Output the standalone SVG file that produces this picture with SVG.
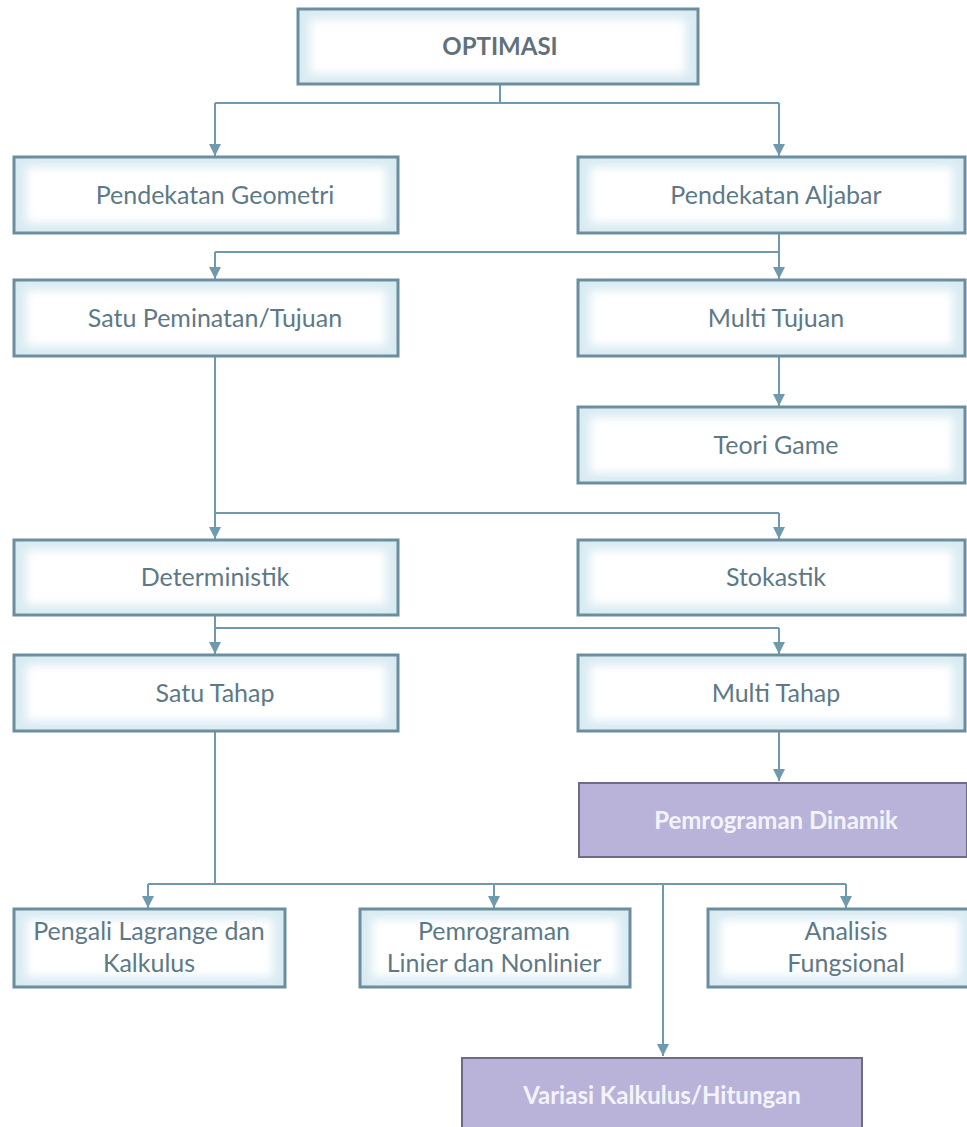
<svg xmlns="http://www.w3.org/2000/svg" width="967" height="1127" viewBox="0 0 967 1127">
<defs>
<style>
.box{fill:#d9ebf2;stroke:#6b8e9e;stroke-width:3}
.inner{fill:#ffffff;filter:url(#soft)}
.pbox{fill:#b9b3da;stroke:#6d6b86;stroke-width:2}
.t{font-family:Lato,"Open Sans",sans-serif;font-size:25px;fill:#5d7987;text-anchor:middle}
.tb{font-family:Lato,"Open Sans",sans-serif;font-size:24px;font-weight:bold;fill:#5f717b;text-anchor:middle}
.tw{font-family:Lato,"Open Sans",sans-serif;font-size:24px;font-weight:bold;fill:#f4f3fa;text-anchor:middle}
.c{fill:none;stroke:#6f9aae;stroke-width:2}
</style>
<filter id="soft" x="-10%" y="-30%" width="120%" height="160%"><feGaussianBlur stdDeviation="5"/></filter>
<marker id="ah" viewBox="0 0 10 10" refX="10" refY="5" markerWidth="6" markerHeight="6" orient="auto" markerUnits="strokeWidth"><path d="M0,0 L10,5 L0,10 z" fill="#6f9aae"/></marker>
</defs>

<g id="connectors">
<path class="c" d="M500,84 V103"/>
<path class="c" d="M215,103 H779"/>
<path class="c" d="M215,103 V156" marker-end="url(#ah)"/>
<path class="c" d="M779,103 V156" marker-end="url(#ah)"/>
<path class="c" d="M779,233 V279" marker-end="url(#ah)"/>
<path class="c" d="M215,252 H779"/>
<path class="c" d="M215,252 V279" marker-end="url(#ah)"/>
<path class="c" d="M779,356 V406" marker-end="url(#ah)"/>
<path class="c" d="M215,356 V513 H779"/>
<path class="c" d="M215,513 V539" marker-end="url(#ah)"/>
<path class="c" d="M779,513 V539" marker-end="url(#ah)"/>
<path class="c" d="M215,615 V628 H779"/>
<path class="c" d="M215,628 V654" marker-end="url(#ah)"/>
<path class="c" d="M779,628 V654" marker-end="url(#ah)"/>
<path class="c" d="M779,731 V781" marker-end="url(#ah)"/>
<path class="c" d="M215,731 V884"/>
<path class="c" d="M148,884 H846"/>
<path class="c" d="M148,884 V908" marker-end="url(#ah)"/>
<path class="c" d="M494,884 V908" marker-end="url(#ah)"/>
<path class="c" d="M846,884 V908" marker-end="url(#ah)"/>
<path class="c" d="M663,884 V1056" marker-end="url(#ah)"/>
</g>

<g id="n-optimasi"><rect class="box" x="298" y="9" width="400" height="75"/><rect class="inner" x="310" y="19" width="376" height="55"/><text class="tb" x="500" y="55">OPTIMASI</text></g>
<g id="n-geometri"><rect class="box" x="14" y="157" width="384" height="76"/><rect class="inner" x="26" y="167" width="360" height="56"/><text class="t" x="215" y="204">Pendekatan Geometri</text></g>
<g id="n-aljabar"><rect class="box" x="578" y="157" width="387" height="76"/><rect class="inner" x="590" y="167" width="363" height="56"/><text class="t" x="776" y="204">Pendekatan Aljabar</text></g>
<g id="n-satu-peminatan"><rect class="box" x="14" y="280" width="384" height="76"/><rect class="inner" x="26" y="290" width="360" height="56"/><text class="t" x="215" y="327">Satu Peminatan/Tujuan</text></g>
<g id="n-multi-tujuan"><rect class="box" x="578" y="280" width="387" height="76"/><rect class="inner" x="590" y="290" width="363" height="56"/><text class="t" x="776" y="327">Multi Tujuan</text></g>
<g id="n-teori-game"><rect class="box" x="578" y="407" width="387" height="76"/><rect class="inner" x="590" y="417" width="363" height="56"/><text class="t" x="776" y="454">Teori Game</text></g>
<g id="n-deterministik"><rect class="box" x="14" y="540" width="384" height="75"/><rect class="inner" x="26" y="550" width="360" height="55"/><text class="t" x="215" y="586">Deterministik</text></g>
<g id="n-stokastik"><rect class="box" x="578" y="540" width="387" height="75"/><rect class="inner" x="590" y="550" width="363" height="55"/><text class="t" x="776" y="586">Stokastik</text></g>
<g id="n-satu-tahap"><rect class="box" x="14" y="655" width="384" height="76"/><rect class="inner" x="26" y="665" width="360" height="56"/><text class="t" x="215" y="702">Satu Tahap</text></g>
<g id="n-multi-tahap"><rect class="box" x="578" y="655" width="387" height="76"/><rect class="inner" x="590" y="665" width="363" height="56"/><text class="t" x="776" y="702">Multi Tahap</text></g>
<g id="n-dinamik"><rect class="pbox" x="579" y="783" width="388" height="74"/><text class="tw" x="776" y="829">Pemrograman Dinamik</text></g>
<g id="n-lagrange"><rect class="box" x="14" y="909" width="271" height="78"/><rect class="inner" x="26" y="919" width="247" height="58"/><text class="t" x="149" y="940">Pengali Lagrange dan</text><text class="t" x="149" y="972">Kalkulus</text></g>
<g id="n-linier"><rect class="box" x="360" y="909" width="270" height="78"/><rect class="inner" x="372" y="919" width="246" height="58"/><text class="t" x="494" y="940">Pemrograman</text><text class="t" x="494" y="972">Linier dan Nonlinier</text></g>
<g id="n-fungsional"><rect class="box" x="708" y="909" width="262" height="78"/><rect class="inner" x="720" y="919" width="240" height="58"/><text class="t" x="846" y="940">Analisis</text><text class="t" x="846" y="972">Fungsional</text></g>
<g id="n-variasi"><rect class="pbox" x="462" y="1058" width="400" height="80"/><text class="tw" x="662" y="1104">Variasi Kalkulus/Hitungan</text></g>
</svg>
